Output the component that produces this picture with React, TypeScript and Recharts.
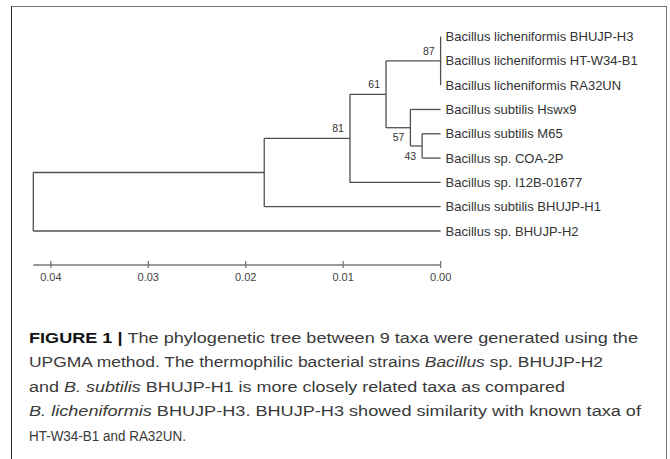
import { ReferenceDot, ReferenceLine, Scatter, ScatterChart, XAxis, YAxis } from 'recharts'

// leaves, top to bottom
const taxa = [
  'Bacillus licheniformis BHUJP-H3',
  'Bacillus licheniformis HT-W34-B1',
  'Bacillus licheniformis RA32UN',
  'Bacillus subtilis Hswx9',
  'Bacillus subtilis M65',
  'Bacillus sp. COA-2P',
  'Bacillus sp. I12B-01677',
  'Bacillus subtilis BHUJP-H1',
  'Bacillus sp. BHUJP-H2',
]

// internal nodes (UPGMA heights), children are leaf indexes or node ids
const nodes = [
  { id: 'n87', height: 0.0, children: [0, 1, 2], support: 87, labelSide: -1 },
  { id: 'n43', height: 0.0019, children: [4, 5], support: 43, labelSide: 1 },
  { id: 'n57', height: 0.0031, children: [3, 'n43'], support: 57, labelSide: 1 },
  { id: 'n61', height: 0.0056, children: ['n87', 'n57'], support: 61, labelSide: -1 },
  { id: 'n81', height: 0.0093, children: ['n61', 6], support: 81, labelSide: -1 },
  { id: 'n18', height: 0.0181, children: ['n81', 7], support: null, labelSide: -1 },
  { id: 'root', height: 0.0418, children: ['n18', 8], support: null, labelSide: -1 },
]

const distanceTicks = [0, 0.01, 0.02, 0.03, 0.04]

const captionLines = [
  { width: 609, parts: [{ t: 'FIGURE 1 | ', s: 'b' }, { t: 'The phylogenetic tree between 9 taxa were generated using the', s: 'n' }] },
  { width: 574, parts: [{ t: 'UPGMA method. The thermophilic bacterial strains ', s: 'n' }, { t: 'Bacillus', s: 'i' }, { t: ' sp. BHUJP-H2', s: 'n' }] },
  { width: 536, parts: [{ t: 'and ', s: 'n' }, { t: 'B. subtilis', s: 'i' }, { t: ' BHUJP-H1 is more closely related taxa as compared', s: 'n' }] },
  { width: 612, parts: [{ t: 'B. licheniformis', s: 'i' }, { t: ' BHUJP-H3. BHUJP-H3 showed similarity with known taxa of', s: 'n' }] },
  { width: 157, parts: [{ t: 'HT-W34-B1 and RA32UN.', s: 'n' }] },
]

const FONT = '"Liberation Sans", Arial, sans-serif'

// dendrogram layout: node y = middle of its children
const nodeY: Record<string, number> = {}
const nodeH: Record<string, number> = {}
nodes.forEach((n) => {
  const ys = n.children.map(c => (typeof c === 'number' ? c : nodeY[c]))
  nodeY[n.id] = (Math.min(...ys) + Math.max(...ys)) / 2
  nodeH[n.id] = n.height
})

const segments: { x1: number, y1: number, x2: number, y2: number }[] = []
nodes.forEach((n) => {
  const ys = n.children.map(c => (typeof c === 'number' ? c : nodeY[c]))
  segments.push({ x1: n.height, y1: Math.min(...ys), x2: n.height, y2: Math.max(...ys) })
  n.children.forEach((c) => {
    const h = typeof c === 'number' ? 0 : nodeH[c]
    const y = typeof c === 'number' ? c : nodeY[c]
    if (n.height > h)
      segments.push({ x1: n.height, y1: y, x2: h, y2: y })
  })
})

const supportData = nodes
  .filter(n => n.support !== null)
  .map(n => ({ x: n.height, y: nodeY[n.id], support: n.support, side: n.labelSide }))

const DistTick = ({ x, y, payload }: any) => (
  <g>
    <line x1={x} x2={x} y1={y - 4} y2={y + 3} stroke="#777" strokeWidth={1.3} />
    <text x={x} y={y + 16} textAnchor="middle" fontSize={11} fontFamily={FONT} fill="#444">
      {Number(payload.value).toFixed(2)}
    </text>
  </g>
)

export default function App() {
  return (
    <div style={{ position: 'absolute', left: 0, top: 0, width: 670, height: 459, overflow: 'hidden', background: '#fff' }}>
      <div
        style={{
          position: 'absolute',
          left: 11,
          top: 6,
          width: 656,
          height: 470,
          borderLeft: '1px solid #222',
          borderTop: '1.5px solid #777',
          borderRight: '1px solid #777',
          boxSizing: 'border-box',
        }}
      />
      <div style={{ position: 'absolute', left: 0, top: 0 }}>
        <ScatterChart width={670} height={295} margin={{ top: 12.3, right: 229.4, bottom: 0, left: 33.3 }}>
          <XAxis
            type="number"
            dataKey="x"
            domain={[0, 0.0418]}
            reversed
            allowDataOverflow
            ticks={distanceTicks}
            interval={0}
            tick={<DistTick />}
            tickLine={false}
            tickSize={0}
            tickMargin={0}
            height={30}
            axisLine={{ stroke: '#777', strokeWidth: 1.5 }}
          />
          <YAxis type="number" dataKey="y" domain={[-1, 9.4]} reversed hide allowDataOverflow />
          {segments.map((s, i) => (
            <ReferenceLine
              key={`seg-${i}`}
              segment={[{ x: s.x1, y: s.y1 }, { x: s.x2, y: s.y2 }]}
              stroke="#505050"
              strokeWidth={1.3}
              ifOverflow="visible"
            />
          ))}
          {taxa.map((name, i) => (
            <ReferenceDot
              key={`leaf-${i}`}
              x={0}
              y={i}
              r={1}
              ifOverflow="visible"
              shape={(p: any) => (
                <text x={p.cx + 5} y={p.cy + 4.6} fontSize={13} fontFamily={FONT} fill="#333">
                  {name}
                </text>
              )}
            />
          ))}
          <Scatter
            data={supportData}
            isAnimationActive={false}
            shape={(p: any) => (
              <text
                x={p.cx - 6}
                y={p.cy + p.payload.side * 10 + 3.7}
                textAnchor="end"
                fontSize={10.5}
                fontFamily={FONT}
                fill="#333"
              >
                {p.payload.support}
              </text>
            )}
          />
        </ScatterChart>
      </div>
      <svg width={670} height={459} style={{ position: 'absolute', left: 0, top: 0 }}>
        {captionLines.map((line, i) => (
          <text
            key={`cap-${i}`}
            x={29}
            y={343 + i * 24.4}
            fontSize={15.5}
            fontFamily={FONT}
            fill="#3a3a3a"
            textLength={line.width}
            lengthAdjust="spacingAndGlyphs"
          >
            {line.parts.map((p, j) => (
              <tspan
                key={j}
                fontWeight={p.s === 'b' ? 'bold' : 'normal'}
                fontStyle={p.s === 'i' ? 'italic' : 'normal'}
                fill={p.s === 'b' ? '#111' : '#3a3a3a'}
              >
                {p.t}
              </tspan>
            ))}
          </text>
        ))}
      </svg>
    </div>
  )
}
